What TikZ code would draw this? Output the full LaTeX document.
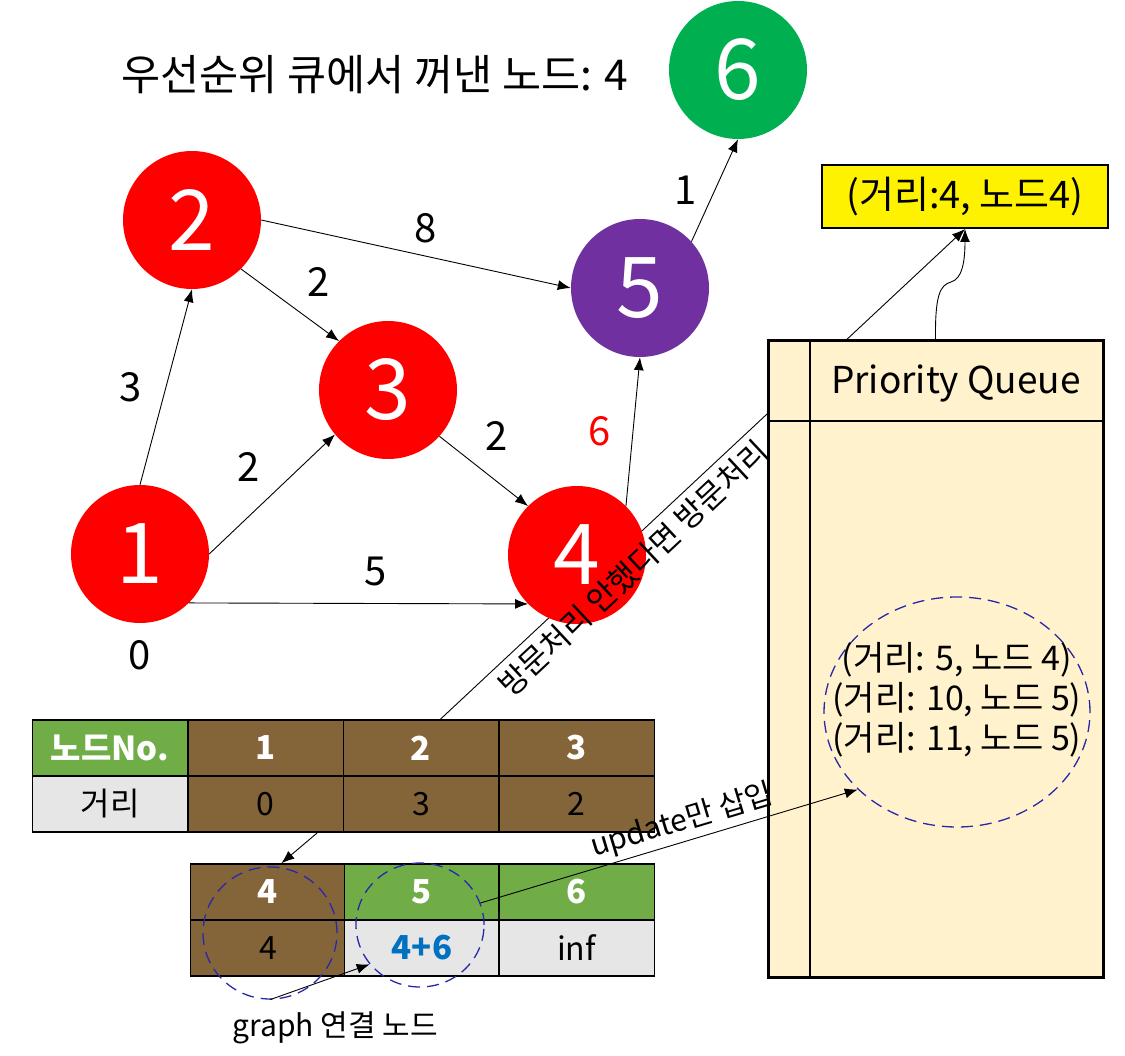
\documentclass[tikz,border=0pt]{standalone}
\usepackage{fontspec}
\setmainfont{Noto Sans CJK KR}
\usepackage{tikz}
\usetikzlibrary{arrows.meta,shapes.geometric}
\definecolor{brn}{RGB}{132,101,58}
\definecolor{grn}{RGB}{112,173,71}
\definecolor{gry}{RGB}{231,230,230}
\definecolor{vgreen}{RGB}{0,176,80}
\definecolor{vpurple}{RGB}{112,48,160}
\definecolor{qfill}{RGB}{255,242,204}
\definecolor{ringblue}{RGB}{40,40,170}
\definecolor{numblue}{RGB}{0,112,192}

\begin{document}
\begin{tikzpicture}[x=1pt,y=-1pt,>={Latex[length=13pt,width=10pt]},
  vtx/.style={circle,minimum size=138pt,inner sep=0,text=white,font=\fontsize{84}{84}\selectfont},
  wt/.style={inner sep=0,font=\fontsize{40}{40}\selectfont},
  cell/.style={draw,line width=1.5pt,minimum width=155.5pt,minimum height=56pt,inner sep=0,font=\fontsize{32}{32}\selectfont},
  hd/.style={cell,text=white,font=\bfseries\fontsize{33}{33}\selectfont},
  ring/.style={draw=ringblue,dash pattern=on 12pt off 7pt,line width=1.3pt,ellipse,inner sep=0}]
\useasboundingbox (0,0) rectangle (1125,1056);

\node[font=\fontsize{42.5}{42.5}\selectfont] (title) at (375,75) {우선순위 큐에서 꺼낸 노드: 4};

% distance tables
\node[hd,fill=grn] (c10) at (110,748) {노드No.};
\node[hd,fill=brn] (c11) at (265.5,748) {1};
\node[hd,fill=brn] (c12) at (421,748) {2};
\node[hd,fill=brn] (c13) at (576.5,748) {3};
\node[cell,fill=gry] (c20) at (110,804) {거리};
\node[cell,fill=brn] (c21) at (265.5,804) {0};
\node[cell,fill=brn] (c22) at (421,804) {3};
\node[cell,fill=brn] (c23) at (576.5,804) {2};

\node[hd,fill=brn] (d10) at (268,892) {4};
\node[hd,fill=grn] (d11) at (422,892) {5};
\node[hd,fill=grn] (d12) at (576.5,892) {6};
\node[cell,fill=brn] (d20) at (268,948) {4};
\node[cell,fill=gry,text=numblue,font=\bfseries\fontsize{33}{33}\selectfont] (d21) at (422,948) {4+6};
\node[cell,fill=gry] (d22) at (576.5,948) {inf};

\node[draw,line width=2pt,fill=yellow,minimum width=286pt,minimum height=63pt,font=\fontsize{38}{38}\selectfont] (yb) at (965,196.5) {(거리:4, 노드4)};

\draw[->,line width=.9pt] (c12.56) -- (yb.south);

% priority queue
\node[draw,line width=3pt,fill=qfill,minimum width=335pt,minimum height=636pt] (q) at (935.5,659) {};
\draw[line width=2pt] (810,341) -- (810,977);
\draw[line width=2pt] (768,421) -- (1103,421);
\node[font=\fontsize{37}{37}\selectfont] (qt) at (956,383) {Priority Queue};
\node[ring,minimum width=266pt,minimum height=230pt] (rq) at (957,712) {};
\node[align=center,font=\fontsize{34}{40}\selectfont] (qi) at (957,700) {(거리: 5, 노드 4)\\(거리: 10, 노드 5)\\(거리: 11, 노드 5)};
\draw[->,line width=.9pt] (q.north) .. controls (935,295) and (940,285) .. (951,282) .. controls (962,279) and (965,262) .. (yb.south);

% graph
\node[vtx,fill=red] (n1) at (140,554) {1};
\node[vtx,fill=red] (n2) at (192,220) {2};
\node[vtx,fill=red] (n3) at (388,390) {3};
\node[vtx,fill=red] (n4) at (577,555) {4};
\node[vtx,fill=vpurple] (n5) at (640,288) {5};
\node[vtx,fill=vgreen] (n6) at (738,70) {6};
\node[wt] (w1) at (140,655) {0};

\begin{scope}[line width=.9pt]
\draw[->] (n1.north) -- node[wt,left=24pt] {3} (n2.south);
\draw[->] (n1.east) -- node[wt,above left=12pt] {2} (n3.-140);
\draw[->] (n1.-45) -- node[wt,pos=.55,above=17pt] {5} (n4.-135);
\draw[->] (n2.-45) -- node[wt,pos=.55,above right=12pt] {2} (n3.135);
\draw[->] (n2.east) -- node[wt,pos=.53,above=13pt] {8} (n5.west);
\draw[->] (n3.-42) -- node[wt,pos=.65,above=31pt] {2} (n4.135);
\draw[->] (n4.45) -- node[wt,left=22pt,text=red] {6} (n5.south);
\draw[->] (n5.42) -- node[wt,left=18pt] {1} (n6.south);
\end{scope}

\path (c12.56) -- node[sloped,below=7pt,pos=.34,inner sep=0,font=\fontsize{31}{31}\selectfont] {방문처리 안했다면 방문처리} (yb.south);

% adjacent nodes
\draw[->,line width=.9pt] (c21.-29) -- (d10.65);
\node[ring,minimum width=134pt,minimum height=132pt] (r4) at (270,933) {};
\node[ring,minimum width=128pt,minimum height=124pt] (r5) at (420,925) {};
\draw[->,line width=.9pt] (r4.south) -- (r5.-142);
\node[font=\fontsize{30}{30}\selectfont] (gl) at (335,1028) {graph 연결 노드};
\draw[->,line width=.9pt] (r5.20) -- node[sloped,above=4pt,pos=.55,inner sep=0,font=\fontsize{30}{30}\selectfont] {update만 삽입} (rq.-142);
\end{tikzpicture}
\end{document}
